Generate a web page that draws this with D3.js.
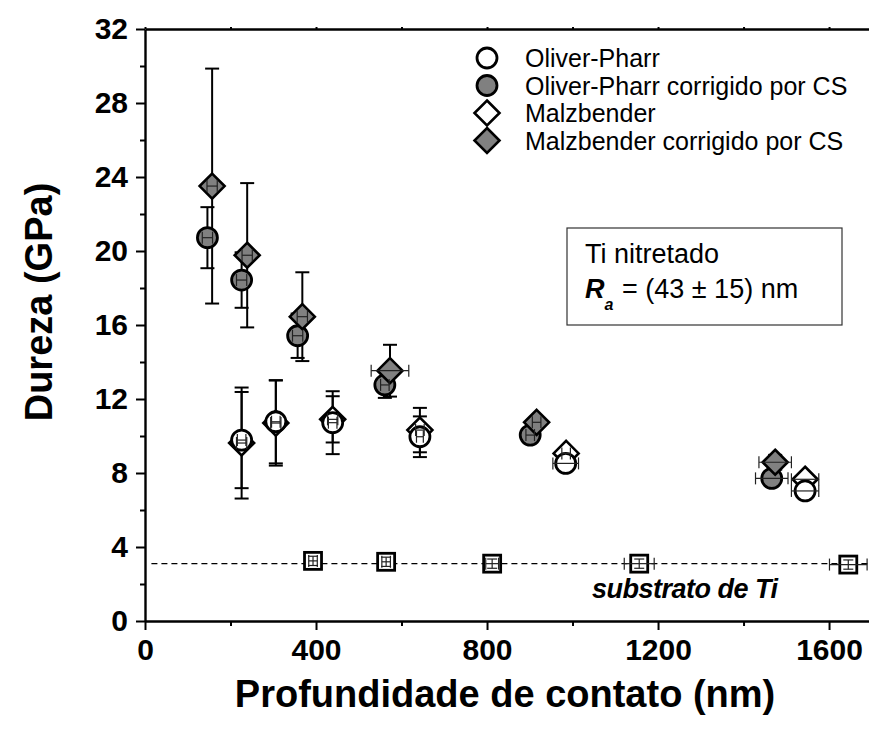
<!DOCTYPE html>
<html>
<head>
<meta charset="utf-8">
<script src="https://cdn.jsdelivr.net/npm/d3@7"></script>
<style>
  body { margin: 0; background: #fff; }
  text { font-family: "Liberation Sans", Arial, sans-serif; }
</style>
</head>
<body>
<div id="chart"></div>
<script>
// depth (nm) and hardness (GPa)
const depthOP = [226, 306, 439, 643, 984, 1544];
const hardOP = [9.78, 10.77, 10.72, 9.96, 8.52, 7.03];
const errOP = [2.6, 2.25, 1.7, 1.1, 0.2, 0.2];
const xerrOP = [10, 10, 10, 8, 30, 32];

const depthOPcs = [146, 226, 357, 561, 901, 1466];
const hardOPcs = [20.72, 18.43, 15.42, 12.76, 10.05, 7.71];
const errOPcs = [1.65, 1.5, 1.2, 0.7, 0.3, 0.3];
const xerrOPcs = [12, 12, 12, 10, 10, 38];

const depthM = [226, 306, 439, 643, 985, 1544];
const hardM = [9.62, 10.70, 10.90, 10.32, 9.06, 7.66];
const errM = [3.0, 2.3, 1.25, 1.2, 0.3, 0.3];
const xerrM = [12, 12, 12, 10, 10, 32];

const depthMcs = [157, 239, 368, 573, 916, 1474];
const hardMcs = [23.51, 19.77, 16.45, 13.53, 10.74, 8.58];
const errMcs = [6.35, 3.9, 2.4, 1.4, 0.3, 0.4];
const xerrMcs = [12, 12, 12, 44, 10, 38];

const depthSub = [393, 564, 812, 1156, 1645];
const hardSub = [3.25, 3.2, 3.1, 3.1, 3.05];
const errSub = [0.25, 0.25, 0.25, 0.25, 0.25];
const xerrSub = [10, 10, 15, 35, 44];
const subLevel = 3.1;

const xTicks = [0, 400, 800, 1200, 1600];
const xMinor = [200, 600, 1000, 1400];
const yTicks = [0, 4, 8, 12, 16, 20, 24, 28, 32];
const yMinor = [2, 6, 10, 14, 18, 22, 26, 30];

const gray = "#808080";

var series = [
    { name: "Malzbender", shape: "diamond", fill: "#fff", xs: depthM, ys: hardM, e: errM, xe: xerrM },
    { name: "Oliver-Pharr", shape: "circle", fill: "#fff", xs: depthOP, ys: hardOP, e: errOP, xe: xerrOP },
    { name: "Oliver-Pharr corrigido por CS", shape: "circle", fill: gray, xs: depthOPcs, ys: hardOPcs, e: errOPcs, xe: xerrOPcs },
    { name: "Malzbender corrigido por CS", shape: "diamond", fill: gray, xs: depthMcs, ys: hardMcs, e: errMcs, xe: xerrMcs }
];
var legendOrder = [1, 2, 0, 3];

var width = 869, height = 729;

var x = d3.scaleLinear().domain([0, 1700]).range([145, 871.8]),
    y = d3.scaleLinear().domain([0, 32]).range([621, 29]);

var svg = d3.select("#chart").append("svg")
    .attr("width", width)
    .attr("height", height);

function drawMarker(g, shape, fill) {
    if (shape === "circle") {
        g.append("circle").attr("r", 10)
            .attr("fill", fill).attr("stroke", "#000").attr("stroke-width", 2.8);
    } else if (shape === "diamond") {
        var s = 12.5;
        g.append("path").attr("d", "M0," + (-s) + "L" + s + ",0L0," + s + "L" + (-s) + ",0Z")
            .attr("fill", fill).attr("stroke", "#000").attr("stroke-width", 2.6)
            .attr("stroke-linejoin", "miter");
    } else {
        g.append("rect").attr("x", -8.5).attr("y", -8.5).attr("width", 17).attr("height", 17)
            .attr("fill", "#fff").attr("stroke", "#000").attr("stroke-width", 2.8);
    }
}

// dashed substrate level
svg.append("line")
    .attr("x1", x(15)).attr("x2", width)
    .attr("y1", y(subLevel)).attr("y2", y(subLevel))
    .attr("stroke", "#000").attr("stroke-width", 1.3)
    .attr("stroke-dasharray", "6,4");

// vertical error bars behind markers
var errG = svg.append("g").attr("stroke", "#000").attr("stroke-width", 2);
series.forEach(function (s) {
    s.xs.forEach(function (d, i) {
        var cx = x(d), top = y(s.ys[i] + s.e[i]), bot = y(s.ys[i] - s.e[i]);
        errG.append("line").attr("x1", cx).attr("x2", cx).attr("y1", top).attr("y2", bot);
        errG.append("line").attr("x1", cx - 7).attr("x2", cx + 7).attr("y1", top).attr("y2", top);
        errG.append("line").attr("x1", cx - 7).attr("x2", cx + 7).attr("y1", bot).attr("y2", bot);
    });
});

// markers
series.forEach(function (s) {
    s.xs.forEach(function (d, i) {
        var g = svg.append("g").attr("transform", "translate(" + x(d) + "," + y(s.ys[i]) + ")");
        drawMarker(g, s.shape, s.fill);
    });
});
depthSub.forEach(function (d, i) {
    var g = svg.append("g").attr("transform", "translate(" + x(d) + "," + y(hardSub[i]) + ")");
    drawMarker(g, "square", "#fff");
});

// small x error bars and substrate error bars on top
var xeG = svg.append("g").attr("stroke", "#222").attr("stroke-width", 1.2);
function xErr(xs, ys, xe) {
    xs.forEach(function (d, i) {
        var cy = y(ys[i]), l = x(d - xe[i]), r = x(d + xe[i]);
        xeG.append("line").attr("x1", l).attr("x2", r).attr("y1", cy).attr("y2", cy);
        xeG.append("line").attr("x1", l).attr("x2", l).attr("y1", cy - 6).attr("y2", cy + 6);
        xeG.append("line").attr("x1", r).attr("x2", r).attr("y1", cy - 6).attr("y2", cy + 6);
    });
}
series.forEach(function (s) { xErr(s.xs, s.ys, s.xe); });
xErr(depthSub, hardSub, xerrSub);
depthSub.forEach(function (d, i) {
    var cx = x(d), top = y(hardSub[i] + errSub[i]), bot = y(hardSub[i] - errSub[i]);
    xeG.append("line").attr("x1", cx).attr("x2", cx).attr("y1", top).attr("y2", bot);
    xeG.append("line").attr("x1", cx - 5).attr("x2", cx + 5).attr("y1", top).attr("y2", top);
    xeG.append("line").attr("x1", cx - 5).attr("x2", cx + 5).attr("y1", bot).attr("y2", bot);
});

// axes
svg.append("g")
    .attr("transform", "translate(0," + y(0) + ")")
    .call(d3.axisBottom(x).tickValues(xTicks).tickSize(9).tickSizeOuter(0).tickPadding(9)
        .tickFormat(d3.format("d")));
svg.append("g")
    .attr("transform", "translate(0," + y(0) + ")")
    .call(d3.axisBottom(x).tickValues(xMinor).tickSize(5).tickSizeOuter(0).tickFormat(""))
    .select(".domain").remove();

svg.append("g")
    .attr("transform", "translate(" + x(0) + ",0)")
    .call(d3.axisLeft(y).tickValues(yTicks).tickSize(9).tickSizeOuter(0).tickPadding(8)
        .tickFormat(d3.format("d")));
svg.append("g")
    .attr("transform", "translate(" + x(0) + ",0)")
    .call(d3.axisLeft(y).tickValues(yMinor).tickSize(5).tickSizeOuter(0).tickFormat(""))
    .select(".domain").remove();

// top frame line with tiny ticks
svg.append("g")
    .attr("transform", "translate(0," + y(32) + ")")
    .call(d3.axisTop(x).tickValues(xTicks.concat(xMinor)).tickSize(2).tickSizeOuter(0).tickFormat(""));

svg.selectAll(".domain").attr("stroke-width", 2.4);
svg.selectAll(".tick line").attr("stroke-width", 2);
svg.selectAll(".tick text")
    .attr("font-family", "'Liberation Sans', Arial, sans-serif")
    .attr("font-weight", "bold")
    .attr("font-size", 30)
    .attr("fill", "#000");

// axis titles
svg.append("text")
    .attr("x", 505).attr("y", 707)
    .attr("text-anchor", "middle")
    .attr("font-weight", "bold").attr("font-size", 38)
    .text("Profundidade de contato (nm)");

svg.append("text")
    .attr("transform", "translate(52,302) rotate(-90)")
    .attr("text-anchor", "middle")
    .attr("font-weight", "bold").attr("font-size", 38)
    .text("Dureza (GPa)");

// legend
var legend = svg.append("g");
legendOrder.forEach(function (k, i) {
    var s = series[k];
    var row = legend.append("g").attr("transform", "translate(487," + (58 + i * 27.5) + ")");
    drawMarker(row.append("g"), s.shape, s.fill);
    row.append("text").attr("x", 38).attr("y", 9)
        .attr("font-size", 25).text(s.name);
});

// annotation box
svg.append("rect")
    .attr("x", 567).attr("y", 228).attr("width", 275).attr("height", 97)
    .attr("fill", "none").attr("stroke", "#333").attr("stroke-width", 1.2);
svg.append("text").attr("x", 585).attr("y", 263).attr("font-size", 27).text("Ti nitretado");
var ra = svg.append("text").attr("x", 585).attr("y", 298).attr("font-size", 27);
ra.append("tspan").attr("font-weight", "bold").attr("font-style", "italic").text("R");
ra.append("tspan").attr("font-weight", "bold").attr("font-style", "italic")
    .attr("font-size", 16).attr("dy", 12).text("a");
ra.append("tspan").attr("x", 622).attr("dy", -12).text("= (43 \u00b1 15) nm");

svg.append("text")
    .attr("x", 592).attr("y", 598)
    .attr("font-weight", "bold").attr("font-style", "italic")
    .attr("font-size", 27).attr("letter-spacing", -0.5)
    .text("substrato de Ti");
</script>
</body>
</html>
